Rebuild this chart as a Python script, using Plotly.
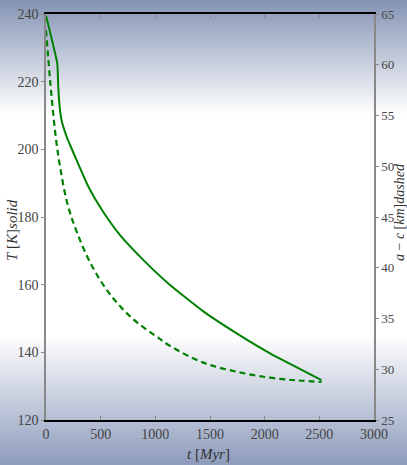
import plotly.graph_objects as go

# Temperature (solid, left axis)
t_T = [0, 103, 112, 125, 145, 170, 195, 240, 277, 330, 378, 450, 530, 683, 896, 1134, 1439, 1744, 2049, 2520]
T_K = [239.5, 225.4, 218.5, 212.5, 208.2, 205.5, 203.2, 199.8, 197.0, 193.1, 189.6, 185.3, 181.2, 174.4, 167.1,
       159.9, 152.1, 145.6, 139.7, 131.8]

# a - c (dashed, right axis)
t_ac = [0, 27, 48, 89, 128, 195, 286, 424, 592, 790, 1000, 1150, 1439, 1744, 2049, 2300, 2520]
ac_km = [63.4, 59.8, 57.2, 52.9, 50.0, 46.35, 43.4, 40.1, 37.3, 35.0, 33.3, 32.2, 30.65, 29.76, 29.17, 28.9, 28.75]

x_ticks = [0, 500, 1000, 1500, 2000, 2500, 3000]
y_ticks = [120, 140, 160, 180, 200, 220, 240]
y2_ticks = [25, 30, 35, 40, 45, 50, 55, 60, 65]

W, H = 407, 465
ML, MR, MT, MB = 46, 33, 14, 45
PW, PH = W - ML - MR, H - MT - MB
green = "#008000"
FAM = "Liberation Serif"
fnt = dict(family=FAM, size=14, color="#444444")
rfnt = dict(family=FAM, size=13, color="#444444")
tfnt = dict(family=FAM, size=15, color="#333333")

fig = go.Figure()
fig.add_trace(go.Scatter(x=t_T, y=T_K, mode="lines", line=dict(color=green, width=2),
                         line_shape="spline", line_smoothing=0.4, showlegend=False))
fig.add_trace(go.Scatter(x=t_ac, y=ac_km, mode="lines", yaxis="y2",
                         line=dict(color=green, width=2.2, dash="6px,4px"),
                         line_shape="spline", showlegend=False))

# gradient background
top = (132, 147, 179)
bot = (142, 156, 188)
shapes = []
step = 3
for y0 in range(0, H, step):
    yc = y0 + step / 2
    if yc < 115:
        f = 1 - yc / 115
        c = top
    elif yc > 335:
        f = (yc - 335) / (H - 335)
        c = bot
    else:
        f = 0
        c = top
    col = tuple(round(255 + (ci - 255) * f) for ci in c)
    py0 = 1 - (y0 - MT) / PH
    py1 = 1 - (y0 + step - MT) / PH
    shapes.append(dict(type="rect", xref="paper", yref="paper", x0=-ML / PW - 0.01,
                       x1=1 + MR / PW + 0.01, y0=py1, y1=py0 + 0.001,
                       fillcolor="rgb(%d,%d,%d)" % col, line=dict(width=0), layer="below"))


def px(x):
    return (x - ML) / PW


def py(y):
    return 1 - (y - MT) / PH


annotations = [
    dict(text="<i>T</i> [<i>K</i>]<i>solid</i>", x=px(12), y=py(230), xref="paper", yref="paper",
         textangle=-90, showarrow=False, font=tfnt, xanchor="center", yanchor="middle"),
    dict(text="<i>a</i> − <i>c</i> [<i>km</i>]<i>dashed</i>", x=px(400), y=py(212), xref="paper", yref="paper",
         textangle=-90, showarrow=False, font=dict(family=FAM, size=14, color="#333333"),
         xanchor="center", yanchor="middle"),
    dict(text="<i>t</i> [<i>Myr</i>]", x=px(208), y=py(454), xref="paper", yref="paper",
         showarrow=False, font=tfnt, xanchor="center", yanchor="middle"),
]

fig.update_layout(
    width=W, height=H,
    margin=dict(l=ML, r=MR, t=MT, b=MB, autoexpand=False),
    paper_bgcolor="white", plot_bgcolor="rgba(0,0,0,0)",
    shapes=shapes, annotations=annotations,
    font=fnt,
    xaxis=dict(range=[0, 3000], tickvals=x_ticks, ticks="inside", ticklen=4, tickcolor="#888",
               showline=True, linecolor="black", linewidth=1.5, mirror="ticks",
               showgrid=False, zeroline=False, tickfont=fnt, automargin=False),
    yaxis=dict(range=[120, 240], tickvals=y_ticks, ticks="outside", ticklen=3, tickcolor="#888",
               showline=True, linecolor="#888", linewidth=1.5, showgrid=False, zeroline=False,
               tickfont=fnt, automargin=False),
    yaxis2=dict(range=[25, 65], tickvals=y2_ticks, overlaying="y", side="right", ticks="outside",
                ticklen=3, tickcolor="#888", showline=True, linecolor="#888", linewidth=1.5,
                showgrid=False, zeroline=False, tickfont=rfnt, automargin=False),
)

fig.write_html("out.html")
